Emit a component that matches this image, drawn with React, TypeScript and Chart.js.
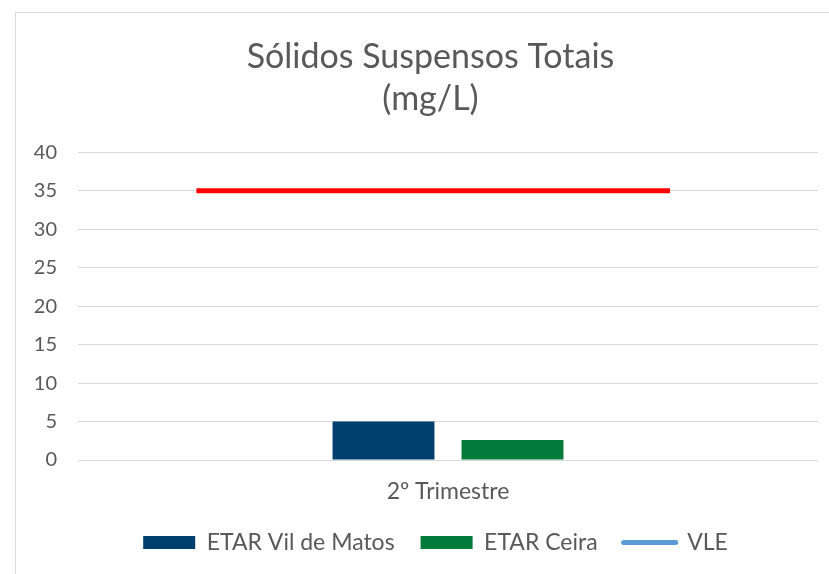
import React, { useEffect, useRef } from "react";
import { Chart, registerables } from "chart.js";

Chart.register(...registerables);

const categories = ["2º Trimestre"];
const vilDeMatos = [5];
const ceira = [2.6];
const vleValue = 35;
// VLE line start/end, in category units around category index 0
const vleSpan = [-0.34, 0.3];
const yTicks = [0, 5, 10, 15, 20, 25, 30, 35, 40];
const titleLines = ["Sólidos Suspensos Totais", "(mg/L)"];
const seriesNames = ["ETAR Vil de Matos", "ETAR Ceira", "VLE"];

const FONT = "Lato, 'Open Sans', sans-serif";
const TEXT = "#595959";
const BLUE = "#003F6E";
const GREEN = "#007A39";
const VLE_LEGEND = "#5B9BD5";

const shiftPlugin = {
  id: "shiftBoxes",
  afterLayout(chart: any) {
    if (chart.titleBlock) {
      chart.titleBlock.left += 13.5;
      chart.titleBlock.right += 13.5;
    }
    if (chart.legend) {
      chart.legend.left += 18.5;
      chart.legend.right += 18.5;
    }
  },
};

export default function App() {
  const ref = useRef<HTMLCanvasElement>(null);
  useEffect(() => {
    if (!ref.current) return;
    const chart = new Chart(ref.current, {
      type: "bar",
      data: {
        datasets: [
          {
            label: seriesNames[0],
            data: vilDeMatos.map((y, i) => ({ x: i, y })),
            backgroundColor: BLUE,
            categoryPercentage: 0.3486,
            barPercentage: 0.79,
            order: 2,
          },
          {
            label: seriesNames[1],
            data: ceira.map((y, i) => ({ x: i, y })),
            backgroundColor: GREEN,
            categoryPercentage: 0.3486,
            barPercentage: 0.79,
            order: 2,
          },
          {
            type: "line",
            label: seriesNames[2],
            data: vleSpan.map((x) => ({ x, y: vleValue })),
            borderColor: "#FF0000",
            backgroundColor: "#FF0000",
            borderWidth: 5,
            pointRadius: 0,
            order: 1,
          } as any,
        ],
      },
      plugins: [shiftPlugin],
      options: {
        animation: false,
        responsive: false,
        layout: { padding: { left: 16, right: 11, top: 0, bottom: 10 } },
        plugins: {
          title: {
            display: true,
            text: titleLines,
            color: TEXT,
            font: { family: FONT, size: 34, weight: "normal", lineHeight: 1.24 },
            padding: { top: 36, bottom: 32 },
          },
          legend: {
            position: "bottom",
            labels: {
              color: TEXT,
              font: { family: FONT, size: 23 },
              usePointStyle: true,
              pointStyleWidth: 52,
              boxHeight: 13,
              padding: 26,
              generateLabels: () => [
                { text: seriesNames[0], fillStyle: BLUE, strokeStyle: BLUE, lineWidth: 0, pointStyle: "rect", datasetIndex: 0, hidden: false, fontColor: TEXT },
                { text: seriesNames[1], fillStyle: GREEN, strokeStyle: GREEN, lineWidth: 0, pointStyle: "rect", datasetIndex: 1, hidden: false, fontColor: TEXT },
                { text: seriesNames[2], fillStyle: VLE_LEGEND, strokeStyle: VLE_LEGEND, lineWidth: 5, lineCap: "round", pointStyle: "line", datasetIndex: 2, hidden: false, fontColor: TEXT },
              ] as any,
            },
          },
          tooltip: { enabled: false },
        },
        scales: {
          x: {
            type: "linear",
            min: -0.5,
            max: categories.length - 0.5,
            offset: false,
            afterBuildTicks: (s: any) => {
              s.ticks = categories.map((_, i) => ({ value: i }));
            },
            afterFit: (s: any) => {
              s.height = 45;
            },
            grid: { display: false },
            border: { display: false },
            ticks: {
              color: TEXT,
              font: { family: FONT, size: 23 },
              padding: 10,
              callback: (v: any) => categories[v] ?? "",
            },
          },
          y: {
            min: 0,
            max: 40,
            afterBuildTicks: (s: any) => {
              s.ticks = yTicks.map((v) => ({ value: v }));
            },
            afterFit: (s: any) => {
              s.width = 62;
            },
            grid: { color: "#D9D9D9", lineWidth: 1, drawTicks: false },
            border: { display: false },
            ticks: { color: TEXT, font: { family: FONT, size: 20 }, padding: 21 },
          },
        },
      } as any,
    });
    return () => chart.destroy();
  }, []);
  return (
    <div style={{ position: "fixed", left: 0, top: 0, width: 829, height: 574, overflow: "hidden", background: "#fff" }}>
      <div style={{ position: "absolute", left: 15, top: 12, width: 900, height: 700, border: "1.5px solid #D9D9D9", boxSizing: "border-box" }} />
      <canvas ref={ref} width={829} height={574} style={{ position: "absolute", left: 0, top: 0, width: 829, height: 574 }} />
    </div>
  );
}
